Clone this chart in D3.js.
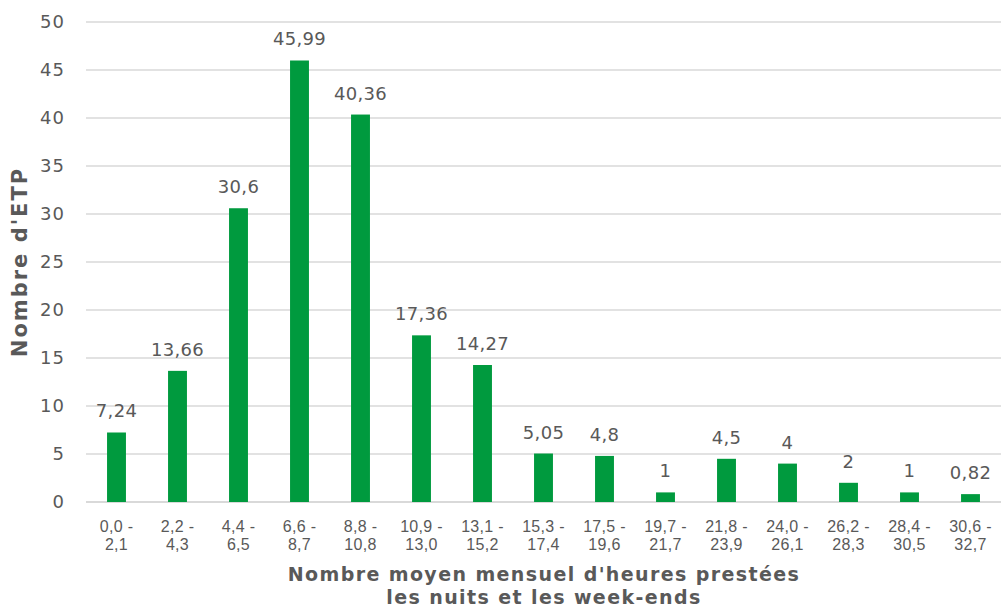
<!DOCTYPE html>
<html>
<head>
<meta charset="utf-8">
<script src="https://cdn.jsdelivr.net/npm/d3@7"></script>
<style>
  html, body { margin: 0; padding: 0; background: #ffffff; }
  svg { display: block; font-family: "DejaVu Sans", Verdana, sans-serif; }
</style>
</head>
<body>
<svg id="chart" width="1001" height="608"></svg>
<script>
// Tranches of monthly night/weekend hours (two-line labels) and FTE counts
const rangeStarts = ["0,0", "2,2", "4,4", "6,6", "8,8", "10,9", "13,1", "15,3", "17,5", "19,7", "21,8", "24,0", "26,2", "28,4", "30,6"];
const rangeEnds   = ["2,1", "4,3", "6,5", "8,7", "10,8", "13,0", "15,2", "17,4", "19,6", "21,7", "23,9", "26,1", "28,3", "30,5", "32,7"];
const etpValues   = [7.24, 13.66, 30.6, 45.99, 40.36, 17.36, 14.27, 5.05, 4.8, 1, 4.5, 4, 2, 1, 0.82];
const yTicks      = [0, 5, 10, 15, 20, 25, 30, 35, 40, 45, 50];

const categories = rangeStarts.map((s, i) => s + " - " + rangeEnds[i]);

const svg = d3.select("#chart");
const margin = { left: 86, right: 0, top: 22, bottom: 106 };
const W = 1001, H = 608;

const x = d3.scaleBand()
  .domain(categories)
  .range([margin.left, W - margin.right])
  .paddingInner(0.69)
  .paddingOuter(0.345);

const y = d3.scaleLinear()
  .domain([0, 50])
  .range([H - margin.bottom, margin.top]);

const textColor = "#595959";

// Horizontal gridlines
svg.append("g")
  .selectAll("line")
  .data(yTicks)
  .join("line")
  .attr("x1", margin.left)
  .attr("x2", W - margin.right)
  .attr("y1", d => y(d))
  .attr("y2", d => y(d))
  .attr("stroke", "#d9d9d9")
  .attr("stroke-width", d => d === 0 ? 2 : 1.3);

// Y axis tick labels
const yAxis = d3.axisLeft(y).tickValues(yTicks).tickSize(0).tickPadding(0);
svg.append("g")
  .attr("transform", `translate(65,0)`)
  .call(yAxis)
  .call(g => g.select(".domain").remove())
  .call(g => g.selectAll("text")
    .attr("fill", textColor)
    .attr("font-size", 18)
    .attr("letter-spacing", 1)
    .attr("font-family", "DejaVu Sans, Verdana, sans-serif"));

// Bars
svg.append("g")
  .selectAll("rect")
  .data(etpValues)
  .join("rect")
  .attr("x", (d, i) => x(categories[i]))
  .attr("y", d => y(d))
  .attr("width", x.bandwidth())
  .attr("height", d => y(0) - y(d))
  .attr("fill", "#009a3e");

// Value labels above bars
const fmt = v => String(v).replace(".", ",");
svg.append("g")
  .selectAll("text")
  .data(etpValues)
  .join("text")
  .attr("x", (d, i) => x(categories[i]) + x.bandwidth() / 2)
  .attr("y", d => y(d) - 15)
  .attr("text-anchor", "middle")
  .attr("fill", textColor)
  .attr("font-size", 18)
  .attr("letter-spacing", 0.3)
  .text(d => fmt(d));

// X axis category labels (two lines)
const xAxis = d3.axisBottom(x).tickSize(0).tickFormat(() => "");
const xg = svg.append("g")
  .attr("transform", `translate(0,${y(0)})`)
  .call(xAxis)
  .call(g => g.select(".domain").remove());
xg.selectAll(".tick").each(function(d, i) {
  const t = d3.select(this).append("text")
    .attr("fill", textColor)
    .attr("font-size", 16)
    .attr("text-anchor", "middle")
    .attr("letter-spacing", 0.3);
  t.append("tspan").attr("x", 0).attr("y", 30).text(rangeStarts[i] + " -");
  t.append("tspan").attr("x", 0).attr("y", 48).text(rangeEnds[i]);
});

// Axis titles
svg.append("text")
  .attr("transform", `translate(20,${(y(0) + y(50)) / 2}) rotate(-90)`)
  .attr("text-anchor", "middle")
  .attr("dominant-baseline", "central")
  .attr("fill", textColor)
  .attr("font-size", 21)
  .attr("letter-spacing", 2)
  .attr("font-weight", "bold")
  .text("Nombre d'ETP");

const xTitle = svg.append("text")
  .attr("text-anchor", "middle")
  .attr("fill", textColor)
  .attr("font-size", 19)
  .attr("letter-spacing", 1.4)
  .attr("font-weight", "bold");
xTitle.append("tspan").attr("x", 544).attr("y", 581).text("Nombre moyen mensuel d'heures prestées");
xTitle.append("tspan").attr("x", 544).attr("y", 604).text("les nuits et les week-ends");
</script>
</body>
</html>
